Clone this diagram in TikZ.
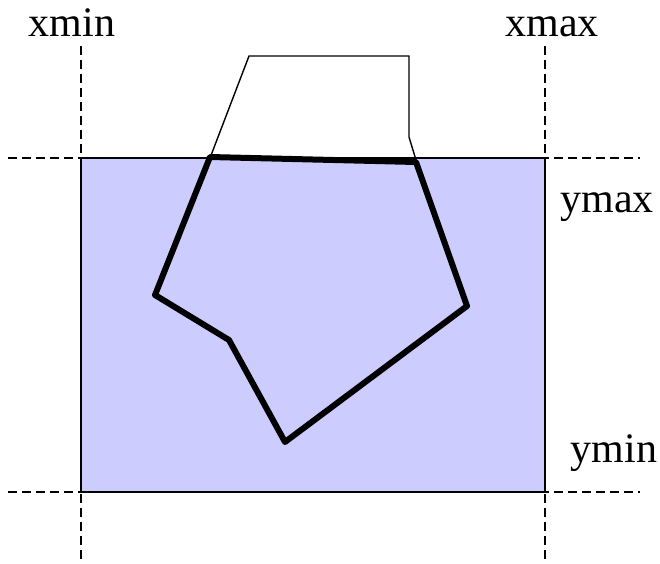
\documentclass[tikz,border=0pt]{standalone}
\usepackage{fontspec}
\setmainfont{Liberation Serif}
\begin{document}
\begin{tikzpicture}[x=1pt,y=-1pt,
  guide/.style={black,line width=1.3pt,dash pattern=on 9pt off 5pt},
  lab/.style={font=\fontsize{42}{48}\selectfont,inner sep=0pt,anchor=base},
  thinpoly/.style={black,line width=1.4pt,line join=miter},
  clippoly/.style={black,line width=6pt,line join=round}]
\useasboundingbox (0,0) rectangle (660,563);
\definecolor{winfill}{HTML}{CCCCFF}
\draw[fill=winfill,line width=1.3pt] (81,158) rectangle (545,492);
\draw[guide] (8,158) -- (640,158);
\draw[guide] (8,492) -- (640,492);
\draw[guide] (81,46) -- (81,563);
\draw[guide] (545,46) -- (545,563);
\node[lab] (xmin) at (72,36) {xmin};
\node[lab] (xmax) at (552,36) {xmax};
\node[lab] (ymax) at (607,212) {ymax};
\node[lab] (ymin) at (614,462) {ymin};
\draw[thinpoly] (210,158) -- (249,56) -- (409,56) -- (409,137) -- (416,160);
\draw[clippoly] (210,157) -- (416,162) -- (467,306) -- (285,442) -- (229,340) -- (155,295) -- cycle;
\end{tikzpicture}
\end{document}
